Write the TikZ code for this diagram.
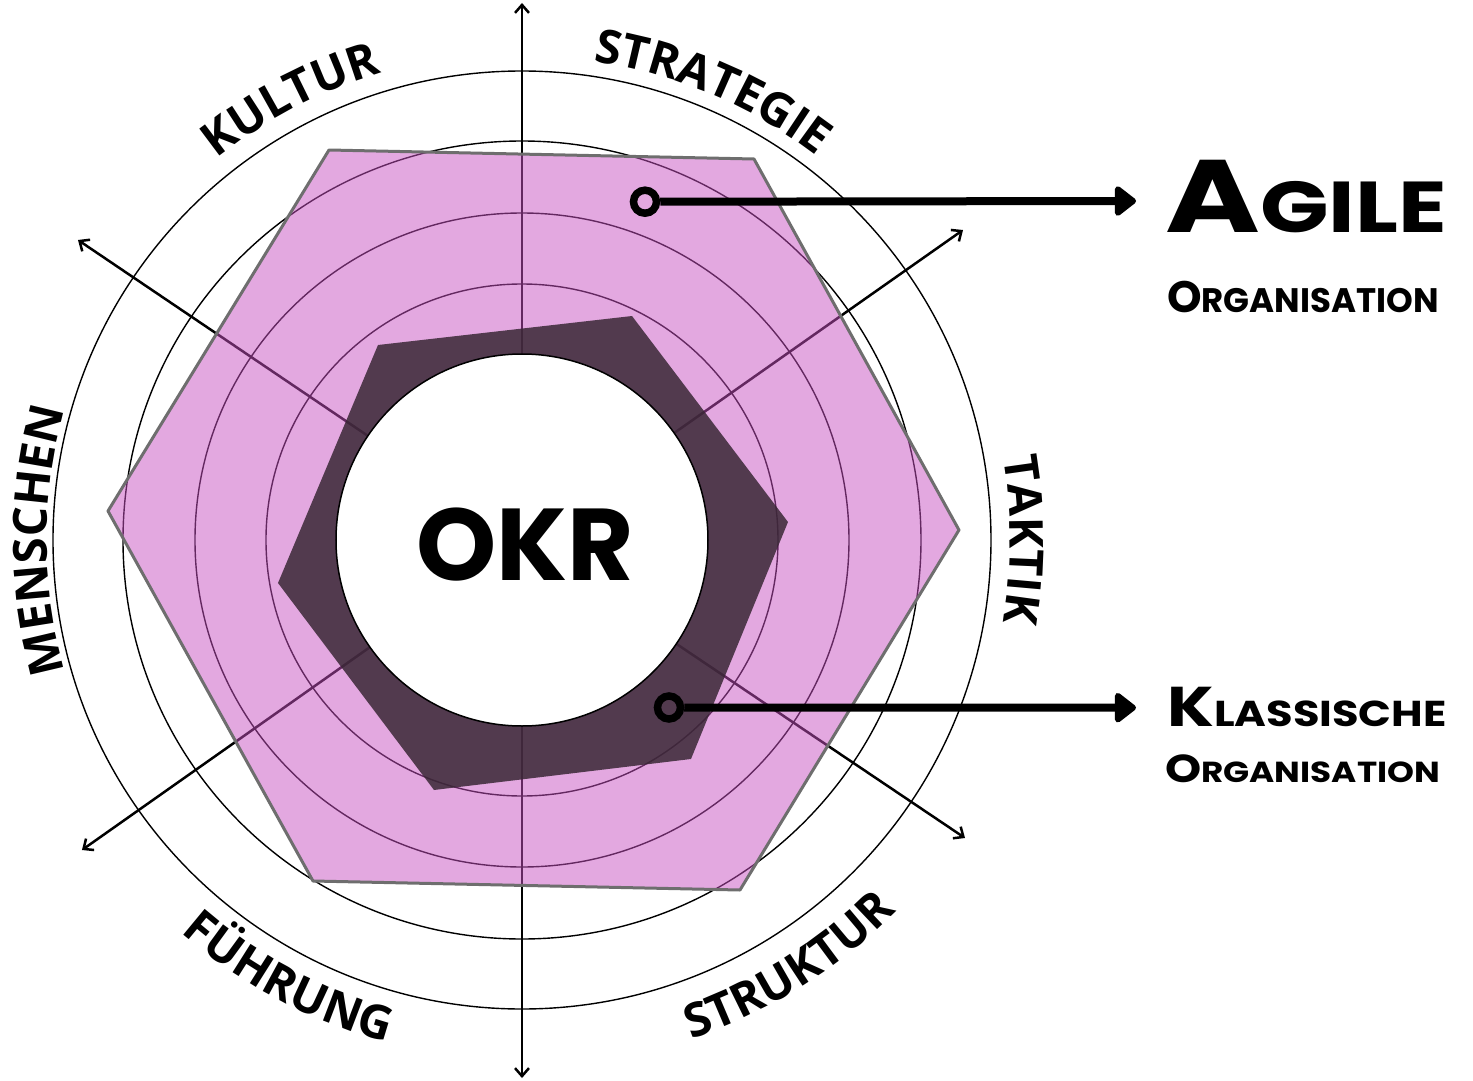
\documentclass[tikz,border=0pt]{standalone}
\usepackage{fontspec}
\setmainfont{Open Sans}
\newfontfamily\brushfont{Poppins}
\newfontfamily\labelfont{Open Sans}
\usetikzlibrary{arrows.meta,decorations.text}
\definecolor{pinkfill}{HTML}{C751C1}
\definecolor{darkfill}{HTML}{392735}
\definecolor{hexline}{HTML}{6E6E6E}
\newcommand\lbl{\labelfont\bfseries\fontsize{47}{47}\selectfont}
\begin{document}
\begin{tikzpicture}[x=1pt,y=1pt,
  ring/.style={draw=black, line width=1.4pt},
  ray/.style={draw=black, line width=2.5pt, -{Straight Barb[length=8pt,width=14pt]}},
  bigarrow/.style={draw=black, line width=8pt, -{Triangle[length=23pt,width=34pt,round]}},
  marker/.style={circle, draw=black, line width=7.5pt, minimum size=23pt, inner sep=0pt},
  axislabel/.style={decorate, decoration={text along path, text align=center, text={#1}}},
  brush/.style={anchor=base west, inner sep=0pt, font=\brushfont\bfseries},
]
\useasboundingbox (-522,-540) rectangle (951,540);
\coordinate (c) at (0,0);
% rings
\foreach \r in {256,327,399,469} {\draw[ring] (c) circle[radius=\r pt];}
% rays
\coordinate (rU) at (0,537);
\coordinate (rD) at (0,-538);
\coordinate (rUR) at (441,310);
\coordinate (rUL) at (-444,300);
\coordinate (rDL) at (-440,-310);
\coordinate (rDR) at (443,-298);
\foreach \e in {rU,rD,rUR,rUL,rDL,rDR} {\draw[ray] (c) -- (\e);}
% agile hexagon
\draw[fill=pinkfill, fill opacity=0.5, draw=hexline, line width=3pt, line join=round]
  (-193,390) -- (232,381) -- (437,10) -- (218,-350) -- (-209,-341) -- (-414,29) -- cycle;
% classic hexagon
\fill[darkfill, fill opacity=0.85]
  (-144,195) -- (110,224) -- (266,18) -- (169,-219) -- (-88,-250) -- (-244,-43) -- cycle;
% white core
\node[circle, fill=white, draw=black, line width=1.5pt, minimum size=372pt, inner sep=0pt] (core) at (c) {};
\node[anchor=base, inner sep=0pt, font=\brushfont\bfseries\fontsize{102}{102}\selectfont] (okr) at (3,-40) {OKR};
% labels
\path[axislabel={|\lbl|STRATEGIE}] (107:484pt) arc[start angle=107, end angle=27, radius=484pt];
\path[axislabel={|\lbl|KULTUR}] (157.7:488pt) arc[start angle=157.7, end angle=77.7, radius=488pt];
\path[axislabel={|\lbl|TAKTIK}] (40:488pt) arc[start angle=40, end angle=-40, radius=488pt];
\path[axislabel={|\lbl|MENSCHEN}] (220:475pt) arc[start angle=220, end angle=140, radius=475pt];
\path[axislabel={|\lbl|FÜHRUNG}] (202:520pt) arc[start angle=202, end angle=282, radius=520pt];
\path[axislabel={|\lbl|STRUKTUR}] (262:527pt) arc[start angle=262, end angle=342, radius=527pt];
% markers and arrows
\node[marker] (mA) at (123,338.3) {};
\coordinate (tA) at (614,339);
\draw[bigarrow] (mA.east) -- (tA);
\node[marker] (mK) at (147,-167.5) {};
\coordinate (tK) at (614,-167.7);
\draw[bigarrow] (mK.east) -- (tK);
% right texts
\node[brush] (agile) at (643,308) {\scalebox{1.25}[1]{\fontsize{103}{103}\selectfont A\fontsize{72}{72}\selectfont GILE}};
\node[brush] (org1) at (645,228) {\scalebox{1.0}[1]{\fontsize{44}{44}\selectfont O\fontsize{34}{34}\selectfont RGANISATION}};
\node[brush] (klass) at (645,-186) {\scalebox{1.2}[1]{\fontsize{56}{56}\selectfont K\fontsize{36}{36}\selectfont LASSISCHE}};
\node[brush] (org2) at (643,-242) {\scalebox{1.18}[1]{\fontsize{39}{39}\selectfont O\fontsize{29}{29}\selectfont RGANISATION}};
\end{tikzpicture}
\end{document}
